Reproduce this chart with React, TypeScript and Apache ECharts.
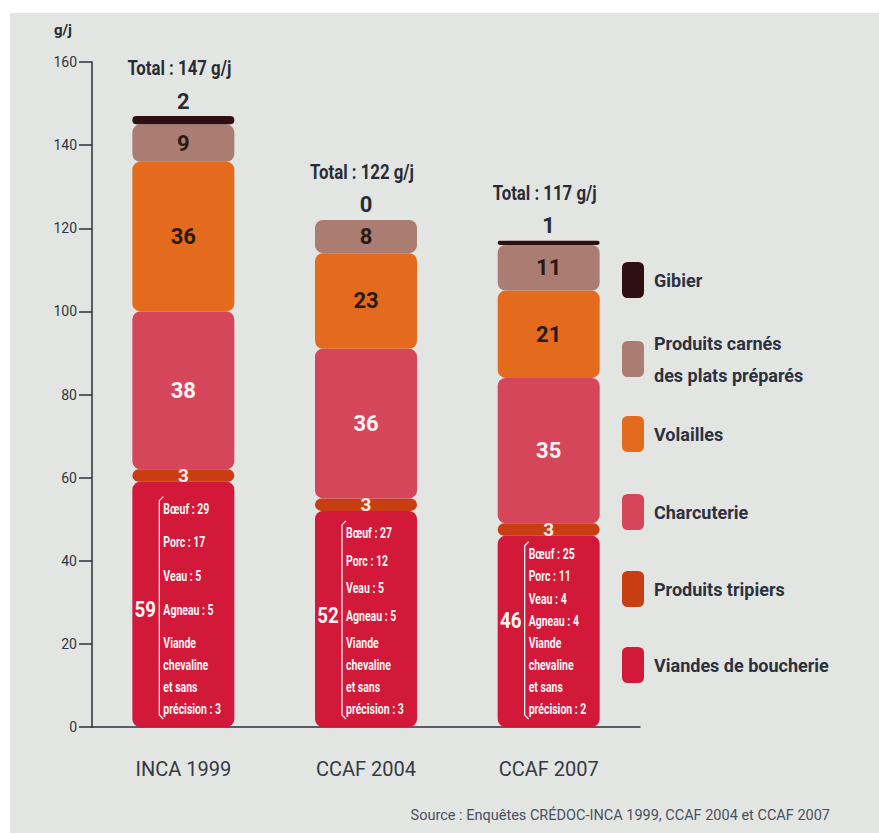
import React, { useEffect, useRef } from 'react';
import * as echarts from 'echarts';

const categories = ['INCA 1999', 'CCAF 2004', 'CCAF 2007'];
const viandes = [59, 52, 46];
const tripiers = [3, 3, 3];
const charcuterie = [38, 36, 35];
const volailles = [36, 23, 21];
const carnes = [9, 8, 11];
const gibier = [2, 0, 1];
const totals = [147, 122, 117];
const details = [
  ['Bœuf : 29', 'Porc : 17', 'Veau : 5', 'Agneau : 5', 'Viande', 'chevaline', 'et sans', 'précision : 3'],
  ['Bœuf : 27', 'Porc : 12', 'Veau : 5', 'Agneau : 5', 'Viande', 'chevaline', 'et sans', 'précision : 3'],
  ['Bœuf : 25', 'Porc : 11', 'Veau : 4', 'Agneau : 4', 'Viande', 'chevaline', 'et sans', 'précision : 2'],
];
const seriesNames = [
  'Viandes de boucherie',
  'Produits tripiers',
  'Charcuterie',
  'Volailles',
  'Produits carnés\ndes plats préparés',
  'Gibier',
];
const sourceText = 'Source : Enquêtes CRÉDOC-INCA 1999, CCAF 2004 et CCAF 2007';

const FONT = "Roboto, 'Liberation Sans', sans-serif";
const BAR_W = 102;
const colors = ['#d2193a', '#c93d12', '#d6465b', '#e46b1d', '#ab7d72', '#2f0f12'];
const dark = '#282c35';

export default function App() {
  const ref = useRef<HTMLDivElement>(null);
  useEffect(() => {
    if (!ref.current) return;
    const chart = echarts.init(ref.current, null, { renderer: 'svg' });
    const data = [viandes, tripiers, charcuterie, volailles, carnes, gibier];
    const labelCfg = [
      { show: false },
      { show: true, color: '#fbeaea', fontSize: 19, fontWeight: 'bold' },
      { show: true, color: '#fff3f3', fontSize: 22, fontWeight: 'bold' },
      { show: true, color: '#2a1a14', fontSize: 22, fontWeight: 'bold' },
      { show: true, color: '#2a1a14', fontSize: 22, fontWeight: 'bold' },
      { show: true, position: 'top', distance: 4, color: dark, fontSize: 22, fontWeight: 'bold' },
    ];
    const series = seriesNames.map((name, k) => ({
      name,
      type: 'bar',
      stack: 'total',
      barWidth: BAR_W,
      data: data[k],
      itemStyle: { color: colors[k], borderRadius: k === 5 ? 4 : 8 },
      label: { fontFamily: FONT, ...labelCfg[k] },
      emphasis: { disabled: true },
    }));
    const legendTops = [249, 314, 403, 481, 558, 634];
    const legendOrder = [...seriesNames].reverse();
    const legends = legendOrder.map((name, k) => ({
      orient: 'vertical',
      left: 612,
      top: legendTops[k],
      padding: 0,
      itemWidth: 22,
      itemHeight: 36,
      icon: 'roundRect',
      selectedMode: false,
      data: [name],
      textStyle: { fontSize: 18, fontWeight: 'bold', color: '#2c3140', lineHeight: 32, padding: [0, 0, 0, 5], fontFamily: FONT },
    }));
    chart.setOption({
      animation: false,
      backgroundColor: '#e3e5e2',
      textStyle: { fontFamily: FONT },
      grid: { left: 82, right: 239, top: 49, bottom: 106 },
      legend: legends,
      xAxis: {
        type: 'category',
        data: categories,
        axisLine: { lineStyle: { color: '#2a3038', width: 1.5 } },
        axisTick: { length: 20, lineStyle: { color: '#2a3038', width: 1.5 } },
        axisLabel: { margin: 32, fontSize: 20, color: '#343a44', fontFamily: FONT },
      },
      yAxis: {
        type: 'value',
        min: 0,
        max: 160,
        interval: 20,
        name: 'g/j',
        nameGap: 25,
        nameTextStyle: { fontSize: 15, fontWeight: 'bold', color: dark, align: 'right', padding: [0, 20, 0, 0], fontFamily: FONT },
        splitLine: { show: false },
        axisLine: { show: true, lineStyle: { color: '#2a3038', width: 1.5 } },
        axisTick: { show: true, length: 13, lineStyle: { color: '#2a3038', width: 1.5 } },
        axisLabel: { margin: 15, fontSize: 14, color: '#2f3540', fontFamily: FONT },
      },
      series,
    });

    const elements: any[] = [
      {
        type: 'text',
        x: 820,
        y: 802,
        z: 10,
        style: { text: sourceText, fill: '#4a5060', font: `14.5px ${FONT}`, align: 'right', verticalAlign: 'middle' },
      },
    ];
    categories.forEach((_c, i) => {
      const tot = chart.convertToPixel({ gridIndex: 0 }, [i, totals[i]]) as number[];
      elements.push({
        type: 'text',
        x: tot[0] - 4,
        y: tot[1] - 48,
        scaleX: 0.8,
        z: 10,
        style: { text: `Total : ${totals[i]} g/j`, fill: dark, font: `bold 21px ${FONT}`, align: 'center', verticalAlign: 'middle' },
      });
      const top = chart.convertToPixel({ gridIndex: 0 }, [i, viandes[i]]) as number[];
      const base = chart.convertToPixel({ gridIndex: 0 }, [i, 0]) as number[];
      const left = top[0] - BAR_W / 2;
      const viandeY = base[1] - 84;
      const s = (viandeY - top[1]) / 4.8;
      const ys = [viandeY - 4 * s, viandeY - 3 * s, viandeY - 2 * s, viandeY - s, viandeY, viandeY + 22, viandeY + 44, viandeY + 66];
      details[i].forEach((t, k) => {
        elements.push({
          type: 'text',
          x: left + 31,
          y: ys[k],
          scaleX: 0.7,
          z: 10,
          style: { text: t, fill: '#fff6f6', font: `bold 15px ${FONT}`, verticalAlign: 'middle' },
        });
      });
      const bx = left + 27;
      const y1 = ys[0] - 12;
      const y2 = ys[7] + 10;
      elements.push({
        type: 'polyline',
        z: 10,
        shape: { points: [[bx + 4, y1], [bx, y1 + 4], [bx, y2 - 4], [bx + 4, y2]] },
        style: { stroke: '#fff2f2', lineWidth: 1.3, fill: null },
      });
      elements.push({
        type: 'text',
        x: left + 13,
        y: ys[3],
        scaleX: 0.85,
        z: 10,
        style: { text: String(viandes[i]), fill: '#fff6f6', font: `bold 22px ${FONT}`, align: 'center', verticalAlign: 'middle' },
      });
    });
    chart.setOption({ graphic: elements });
    return () => chart.dispose();
  }, []);
  return (
    <div style={{ position: 'absolute', left: 0, top: 0, width: 879, height: 833, background: '#ffffff' }}>
      <div ref={ref} style={{ position: 'absolute', left: 10, top: 13, width: 869, height: 820 }} />
    </div>
  );
}
